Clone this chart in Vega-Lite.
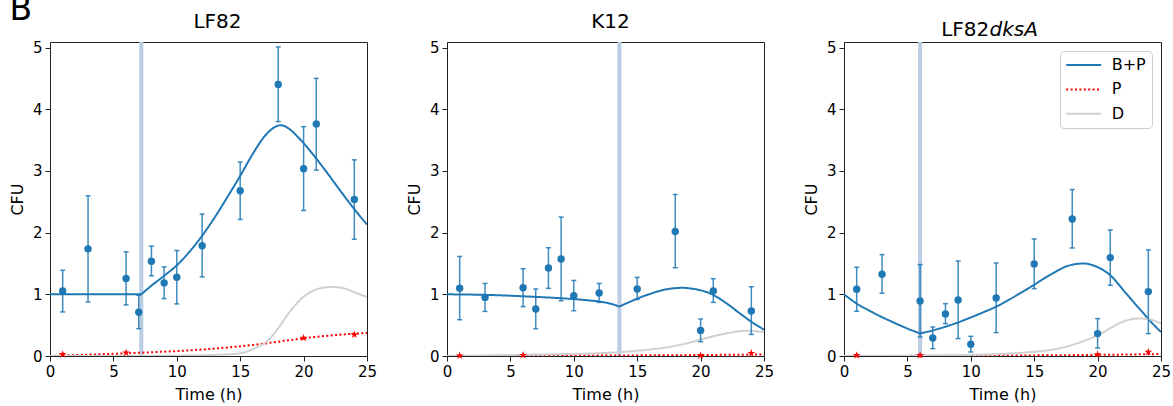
{
  "$schema": "https://vega.github.io/schema/vega-lite/v6.json",
  "padding": {"left": 9, "top": -6, "right": 0, "bottom": 0},
  "title": {"text": "B", "anchor": "start", "frame": "bounds", "fontSize": 33, "offset": -15.7, "font": "DejaVu Sans", "fontWeight": "normal", "color": "black"},
  "spacing": 28,
  "resolve": {"scale": {"color": "independent", "strokeDash": "independent"}},
  "datasets": {
    "r1": [{"t": 7.2}],
    "r2": [{"t": 13.6}],
    "r3": [{"t": 6.0}],
    "c1": [
      {"t": 0, "v": 1.0, "s": "B+P", "g": "a"}, {"t": 7.2, "v": 1.0, "s": "B+P", "g": "a"},
      {"t": 7.2, "v": 1.0, "s": "B+P", "g": "b"}, {"t": 8, "v": 1.14, "s": "B+P", "g": "b"}, {"t": 9, "v": 1.3, "s": "B+P", "g": "b"}, {"t": 10, "v": 1.47, "s": "B+P", "g": "b"}, {"t": 11, "v": 1.69, "s": "B+P", "g": "b"}, {"t": 12, "v": 1.95, "s": "B+P", "g": "b"}, {"t": 13, "v": 2.25, "s": "B+P", "g": "b"}, {"t": 14, "v": 2.58, "s": "B+P", "g": "b"}, {"t": 15, "v": 2.92, "s": "B+P", "g": "b"}, {"t": 16, "v": 3.28, "s": "B+P", "g": "b"}, {"t": 17, "v": 3.58, "s": "B+P", "g": "b"}, {"t": 17.5, "v": 3.68, "s": "B+P", "g": "b"}, {"t": 18.2, "v": 3.74, "s": "B+P", "g": "b"}, {"t": 19, "v": 3.66, "s": "B+P", "g": "b"}, {"t": 19.5, "v": 3.56, "s": "B+P", "g": "b"}, {"t": 20, "v": 3.45, "s": "B+P", "g": "b"}, {"t": 21, "v": 3.2, "s": "B+P", "g": "b"}, {"t": 22, "v": 2.93, "s": "B+P", "g": "b"}, {"t": 23, "v": 2.65, "s": "B+P", "g": "b"}, {"t": 24, "v": 2.38, "s": "B+P", "g": "b"}, {"t": 25, "v": 2.13, "s": "B+P", "g": "b"},
      {"t": 0, "v": 0.0, "s": "P", "g": "a"}, {"t": 2, "v": 0.015, "s": "P", "g": "a"}, {"t": 4, "v": 0.029, "s": "P", "g": "a"}, {"t": 6, "v": 0.044, "s": "P", "g": "a"}, {"t": 8, "v": 0.061, "s": "P", "g": "a"}, {"t": 10, "v": 0.08, "s": "P", "g": "a"}, {"t": 12, "v": 0.105, "s": "P", "g": "a"}, {"t": 14, "v": 0.138, "s": "P", "g": "a"}, {"t": 16, "v": 0.18, "s": "P", "g": "a"}, {"t": 18, "v": 0.232, "s": "P", "g": "a"}, {"t": 20, "v": 0.287, "s": "P", "g": "a"}, {"t": 22, "v": 0.33, "s": "P", "g": "a"}, {"t": 24, "v": 0.362, "s": "P", "g": "a"}, {"t": 25, "v": 0.373, "s": "P", "g": "a"},
      {"t": 0, "v": 0.0, "s": "D", "g": "a"}, {"t": 5, "v": 0.0, "s": "D", "g": "a"}, {"t": 8, "v": 0.002, "s": "D", "g": "a"}, {"t": 10, "v": 0.005, "s": "D", "g": "a"}, {"t": 12, "v": 0.012, "s": "D", "g": "a"}, {"t": 13, "v": 0.018, "s": "D", "g": "a"}, {"t": 14, "v": 0.027, "s": "D", "g": "a"}, {"t": 15, "v": 0.045, "s": "D", "g": "a"}, {"t": 15.5, "v": 0.07, "s": "D", "g": "a"}, {"t": 16, "v": 0.11, "s": "D", "g": "a"}, {"t": 16.5, "v": 0.16, "s": "D", "g": "a"}, {"t": 17, "v": 0.22, "s": "D", "g": "a"}, {"t": 17.5, "v": 0.32, "s": "D", "g": "a"}, {"t": 18, "v": 0.45, "s": "D", "g": "a"}, {"t": 18.5, "v": 0.6, "s": "D", "g": "a"}, {"t": 19, "v": 0.74, "s": "D", "g": "a"}, {"t": 19.5, "v": 0.86, "s": "D", "g": "a"}, {"t": 20, "v": 0.96, "s": "D", "g": "a"}, {"t": 20.5, "v": 1.03, "s": "D", "g": "a"}, {"t": 21, "v": 1.08, "s": "D", "g": "a"}, {"t": 21.5, "v": 1.105, "s": "D", "g": "a"}, {"t": 22.2, "v": 1.12, "s": "D", "g": "a"}, {"t": 23, "v": 1.105, "s": "D", "g": "a"}, {"t": 23.5, "v": 1.075, "s": "D", "g": "a"}, {"t": 24, "v": 1.035, "s": "D", "g": "a"}, {"t": 24.5, "v": 0.995, "s": "D", "g": "a"}, {"t": 25, "v": 0.957, "s": "D", "g": "a"}
    ],
    "c2": [
      {"t": 0, "v": 1.0, "s": "B+P", "g": "a"}, {"t": 2, "v": 0.995, "s": "B+P", "g": "a"}, {"t": 4, "v": 0.985, "s": "B+P", "g": "a"}, {"t": 6, "v": 0.968, "s": "B+P", "g": "a"}, {"t": 8, "v": 0.948, "s": "B+P", "g": "a"}, {"t": 10, "v": 0.923, "s": "B+P", "g": "a"}, {"t": 11, "v": 0.905, "s": "B+P", "g": "a"}, {"t": 12, "v": 0.884, "s": "B+P", "g": "a"}, {"t": 12.5, "v": 0.866, "s": "B+P", "g": "a"}, {"t": 13, "v": 0.842, "s": "B+P", "g": "a"}, {"t": 13.6, "v": 0.8, "s": "B+P", "g": "a"},
      {"t": 13.6, "v": 0.8, "s": "B+P", "g": "b"}, {"t": 14, "v": 0.84, "s": "B+P", "g": "b"}, {"t": 14.5, "v": 0.885, "s": "B+P", "g": "b"}, {"t": 15, "v": 0.93, "s": "B+P", "g": "b"}, {"t": 15.5, "v": 0.97, "s": "B+P", "g": "b"}, {"t": 16, "v": 1.005, "s": "B+P", "g": "b"}, {"t": 16.5, "v": 1.04, "s": "B+P", "g": "b"}, {"t": 17, "v": 1.068, "s": "B+P", "g": "b"}, {"t": 17.5, "v": 1.088, "s": "B+P", "g": "b"}, {"t": 18, "v": 1.1, "s": "B+P", "g": "b"}, {"t": 18.6, "v": 1.105, "s": "B+P", "g": "b"}, {"t": 19.2, "v": 1.095, "s": "B+P", "g": "b"}, {"t": 20, "v": 1.065, "s": "B+P", "g": "b"}, {"t": 20.5, "v": 1.035, "s": "B+P", "g": "b"}, {"t": 21, "v": 0.99, "s": "B+P", "g": "b"}, {"t": 21.5, "v": 0.93, "s": "B+P", "g": "b"}, {"t": 22, "v": 0.86, "s": "B+P", "g": "b"}, {"t": 22.5, "v": 0.785, "s": "B+P", "g": "b"}, {"t": 23, "v": 0.705, "s": "B+P", "g": "b"}, {"t": 23.5, "v": 0.63, "s": "B+P", "g": "b"}, {"t": 24, "v": 0.555, "s": "B+P", "g": "b"}, {"t": 24.5, "v": 0.49, "s": "B+P", "g": "b"}, {"t": 25, "v": 0.426, "s": "B+P", "g": "b"},
      {"t": 0, "v": 0.0, "s": "P", "g": "a"}, {"t": 5, "v": 0.003, "s": "P", "g": "a"}, {"t": 10, "v": 0.006, "s": "P", "g": "a"}, {"t": 15, "v": 0.01, "s": "P", "g": "a"}, {"t": 20, "v": 0.016, "s": "P", "g": "a"}, {"t": 25, "v": 0.025, "s": "P", "g": "a"},
      {"t": 0, "v": 0.0, "s": "D", "g": "a"}, {"t": 2, "v": 0.005, "s": "D", "g": "a"}, {"t": 4, "v": 0.012, "s": "D", "g": "a"}, {"t": 6, "v": 0.02, "s": "D", "g": "a"}, {"t": 8, "v": 0.027, "s": "D", "g": "a"}, {"t": 10, "v": 0.034, "s": "D", "g": "a"}, {"t": 12, "v": 0.045, "s": "D", "g": "a"}, {"t": 13, "v": 0.055, "s": "D", "g": "a"}, {"t": 14, "v": 0.068, "s": "D", "g": "a"}, {"t": 15, "v": 0.085, "s": "D", "g": "a"}, {"t": 16, "v": 0.105, "s": "D", "g": "a"}, {"t": 17, "v": 0.13, "s": "D", "g": "a"}, {"t": 18, "v": 0.165, "s": "D", "g": "a"}, {"t": 19, "v": 0.21, "s": "D", "g": "a"}, {"t": 20, "v": 0.265, "s": "D", "g": "a"}, {"t": 21, "v": 0.32, "s": "D", "g": "a"}, {"t": 22, "v": 0.365, "s": "D", "g": "a"}, {"t": 22.5, "v": 0.385, "s": "D", "g": "a"}, {"t": 23, "v": 0.4, "s": "D", "g": "a"}, {"t": 23.7, "v": 0.409, "s": "D", "g": "a"}, {"t": 24.3, "v": 0.403, "s": "D", "g": "a"}, {"t": 25, "v": 0.385, "s": "D", "g": "a"}
    ],
    "c3": [
      {"t": 0, "v": 1.0, "s": "B+P", "g": "a"}, {"t": 1, "v": 0.85, "s": "B+P", "g": "a"}, {"t": 2, "v": 0.735, "s": "B+P", "g": "a"}, {"t": 3, "v": 0.63, "s": "B+P", "g": "a"}, {"t": 4, "v": 0.535, "s": "B+P", "g": "a"}, {"t": 5, "v": 0.445, "s": "B+P", "g": "a"}, {"t": 6, "v": 0.365, "s": "B+P", "g": "a"},
      {"t": 6, "v": 0.365, "s": "B+P", "g": "b"}, {"t": 7, "v": 0.415, "s": "B+P", "g": "b"}, {"t": 8, "v": 0.475, "s": "B+P", "g": "b"}, {"t": 9, "v": 0.545, "s": "B+P", "g": "b"}, {"t": 10, "v": 0.625, "s": "B+P", "g": "b"}, {"t": 11, "v": 0.71, "s": "B+P", "g": "b"}, {"t": 12, "v": 0.8, "s": "B+P", "g": "b"}, {"t": 13, "v": 0.91, "s": "B+P", "g": "b"}, {"t": 14, "v": 1.03, "s": "B+P", "g": "b"}, {"t": 15, "v": 1.155, "s": "B+P", "g": "b"}, {"t": 16, "v": 1.285, "s": "B+P", "g": "b"}, {"t": 17, "v": 1.4, "s": "B+P", "g": "b"}, {"t": 17.5, "v": 1.45, "s": "B+P", "g": "b"}, {"t": 18, "v": 1.48, "s": "B+P", "g": "b"}, {"t": 18.9, "v": 1.5, "s": "B+P", "g": "b"}, {"t": 19.5, "v": 1.48, "s": "B+P", "g": "b"}, {"t": 20, "v": 1.44, "s": "B+P", "g": "b"}, {"t": 20.5, "v": 1.385, "s": "B+P", "g": "b"}, {"t": 21, "v": 1.31, "s": "B+P", "g": "b"}, {"t": 21.5, "v": 1.2, "s": "B+P", "g": "b"}, {"t": 22, "v": 1.075, "s": "B+P", "g": "b"}, {"t": 22.5, "v": 0.955, "s": "B+P", "g": "b"}, {"t": 23, "v": 0.835, "s": "B+P", "g": "b"}, {"t": 23.5, "v": 0.72, "s": "B+P", "g": "b"}, {"t": 24, "v": 0.6, "s": "B+P", "g": "b"}, {"t": 24.5, "v": 0.49, "s": "B+P", "g": "b"}, {"t": 25, "v": 0.39, "s": "B+P", "g": "b"},
      {"t": 0, "v": 0.0, "s": "P", "g": "a"}, {"t": 5, "v": 0.002, "s": "P", "g": "a"}, {"t": 10, "v": 0.005, "s": "P", "g": "a"}, {"t": 15, "v": 0.01, "s": "P", "g": "a"}, {"t": 20, "v": 0.018, "s": "P", "g": "a"}, {"t": 25, "v": 0.032, "s": "P", "g": "a"},
      {"t": 0, "v": 0.0, "s": "D", "g": "a"}, {"t": 4, "v": 0.003, "s": "D", "g": "a"}, {"t": 8, "v": 0.01, "s": "D", "g": "a"}, {"t": 10, "v": 0.018, "s": "D", "g": "a"}, {"t": 12, "v": 0.03, "s": "D", "g": "a"}, {"t": 13, "v": 0.04, "s": "D", "g": "a"}, {"t": 14, "v": 0.052, "s": "D", "g": "a"}, {"t": 15, "v": 0.068, "s": "D", "g": "a"}, {"t": 16, "v": 0.09, "s": "D", "g": "a"}, {"t": 17, "v": 0.125, "s": "D", "g": "a"}, {"t": 18, "v": 0.18, "s": "D", "g": "a"}, {"t": 19, "v": 0.25, "s": "D", "g": "a"}, {"t": 20, "v": 0.335, "s": "D", "g": "a"}, {"t": 21, "v": 0.45, "s": "D", "g": "a"}, {"t": 21.5, "v": 0.51, "s": "D", "g": "a"}, {"t": 22, "v": 0.555, "s": "D", "g": "a"}, {"t": 22.5, "v": 0.588, "s": "D", "g": "a"}, {"t": 23.3, "v": 0.607, "s": "D", "g": "a"}, {"t": 24, "v": 0.598, "s": "D", "g": "a"}, {"t": 24.5, "v": 0.57, "s": "D", "g": "a"}, {"t": 25, "v": 0.527, "s": "D", "g": "a"}
    ],
    "p1": [
      {"t": 1, "v": 1.055, "lo": 0.714, "hi": 1.39}, {"t": 3, "v": 1.737, "lo": 0.877, "hi": 2.597}, {"t": 6, "v": 1.255, "lo": 0.828, "hi": 1.688}, {"t": 7, "v": 0.708, "lo": 0.443, "hi": 0.984}, {"t": 8, "v": 1.536, "lo": 1.3, "hi": 1.78}, {"t": 9, "v": 1.185, "lo": 0.93, "hi": 1.445}, {"t": 10, "v": 1.276, "lo": 0.844, "hi": 1.71}, {"t": 12, "v": 1.786, "lo": 1.282, "hi": 2.3}, {"t": 15, "v": 2.679, "lo": 2.213, "hi": 3.143}, {"t": 18, "v": 4.4, "lo": 3.8, "hi": 5.01}, {"t": 20, "v": 3.036, "lo": 2.359, "hi": 3.718}, {"t": 21, "v": 3.76, "lo": 3.013, "hi": 4.5}, {"t": 24, "v": 2.537, "lo": 1.893, "hi": 3.18}
    ],
    "p2": [
      {"t": 1, "v": 1.1, "lo": 0.588, "hi": 1.614}, {"t": 3, "v": 0.95, "lo": 0.723, "hi": 1.176}, {"t": 6, "v": 1.107, "lo": 0.8, "hi": 1.415}, {"t": 7, "v": 0.762, "lo": 0.443, "hi": 1.086}, {"t": 8, "v": 1.426, "lo": 1.096, "hi": 1.755}, {"t": 9, "v": 1.572, "lo": 0.896, "hi": 2.252}, {"t": 10, "v": 0.977, "lo": 0.734, "hi": 1.225}, {"t": 12, "v": 1.021, "lo": 0.869, "hi": 1.176}, {"t": 15, "v": 1.086, "lo": 0.917, "hi": 1.274}, {"t": 18, "v": 2.019, "lo": 1.431, "hi": 2.618}, {"t": 20, "v": 0.415, "lo": 0.232, "hi": 0.6}, {"t": 21, "v": 1.053, "lo": 0.869, "hi": 1.253}, {"t": 24, "v": 0.729, "lo": 0.35, "hi": 1.123}
    ],
    "p3": [
      {"t": 1, "v": 1.081, "lo": 0.725, "hi": 1.438}, {"t": 3, "v": 1.325, "lo": 1.017, "hi": 1.644}, {"t": 6, "v": 0.892, "lo": 0.308, "hi": 1.482}, {"t": 7, "v": 0.292, "lo": 0.119, "hi": 0.47}, {"t": 8, "v": 0.681, "lo": 0.525, "hi": 0.849}, {"t": 9, "v": 0.908, "lo": 0.282, "hi": 1.54}, {"t": 10, "v": 0.19, "lo": 0.065, "hi": 0.319}, {"t": 12, "v": 0.94, "lo": 0.379, "hi": 1.508}, {"t": 15, "v": 1.492, "lo": 1.092, "hi": 1.897}, {"t": 18, "v": 2.221, "lo": 1.751, "hi": 2.698}, {"t": 20, "v": 0.363, "lo": 0.13, "hi": 0.606}, {"t": 21, "v": 1.595, "lo": 1.146, "hi": 2.043}, {"t": 24, "v": 1.044, "lo": 0.363, "hi": 1.719}
    ],
    "s1": [{"t": 1, "v": 0.026}, {"t": 6, "v": 0.054}, {"t": 20, "v": 0.292}, {"t": 24, "v": 0.346}],
    "s2": [{"t": 1, "v": 0.005}, {"t": 6, "v": 0.012}, {"t": 20, "v": 0.008}, {"t": 24, "v": 0.045}],
    "s3": [{"t": 1, "v": 0.01}, {"t": 6, "v": 0.01}, {"t": 20, "v": 0.025}, {"t": 24, "v": 0.065}]
  },
  "hconcat": [
    {
      "width": 317, "height": 314,
      "title": {"text": "LF82", "dx": 9, "offset": 8},
      "layer": [
        {"data": {"name": "r1"}, "mark": {"type": "rule", "color": "#b9cde5", "strokeWidth": 4}, "encoding": {"x": {"field": "t", "type": "quantitative", "title": "Time (h)", "scale": {"domain": [0, 25], "nice": false}, "axis": {"values": [0, 5, 10, 15, 20, 25]}}}},
        {"data": {"name": "c1"}, "mark": {"type": "line", "strokeWidth": 2, "interpolate": "monotone", "clip": true},
          "encoding": {
            "x": {"field": "t", "type": "quantitative", "title": "Time (h)"},
            "y": {"field": "v", "type": "quantitative", "title": "CFU", "scale": {"domain": [0, 5.09], "nice": false}, "axis": {"values": [0, 1, 2, 3, 4, 5], "format": "d"}},
            "color": {"field": "s", "type": "nominal", "title": null, "scale": {"domain": ["B+P", "P", "D"], "range": ["#1f77b4", "#ff0000", "#d0d0d0"]}, "legend": null},
            "strokeDash": {"field": "s", "type": "nominal", "title": null, "scale": {"domain": ["B+P", "P", "D"], "range": [[1, 0], [2, 2.4], [1, 0]]}, "legend": null},
            "detail": {"field": "g"}
          }},
        {"data": {"name": "p1"}, "mark": {"type": "errorbar", "color": "#1f77b4", "opacity": 0.85, "thickness": 1.5, "ticks": {"size": 5, "thickness": 1.5, "color": "#1f77b4"}},
          "encoding": {"x": {"field": "t", "type": "quantitative", "title": "Time (h)"}, "y": {"field": "lo", "type": "quantitative", "title": "CFU"}, "y2": {"field": "hi"}}},
        {"data": {"name": "p1"}, "mark": {"type": "point", "filled": true, "size": 55, "color": "#1f77b4", "opacity": 1},
          "encoding": {"x": {"field": "t", "type": "quantitative", "title": "Time (h)"}, "y": {"field": "v", "type": "quantitative", "title": "CFU"}}},
        {"data": {"name": "s1"}, "mark": {"type": "point", "filled": true, "size": 70, "color": "#ff0000", "opacity": 1, "shape": "M0,-1L0.2245,-0.309L0.951,-0.309L0.363,0.118L0.588,0.809L0,0.382L-0.588,0.809L-0.363,0.118L-0.951,-0.309L-0.2245,-0.309Z"},
          "encoding": {"x": {"field": "t", "type": "quantitative", "title": "Time (h)"}, "y": {"field": "v", "type": "quantitative", "title": "CFU"}}}
      ]
    },
    {
      "width": 317, "height": 314,
      "title": {"text": "K12", "dx": 5, "offset": 8},
      "layer": [
        {"data": {"name": "r2"}, "mark": {"type": "rule", "color": "#b9cde5", "strokeWidth": 4}, "encoding": {"x": {"field": "t", "type": "quantitative", "title": "Time (h)", "scale": {"domain": [0, 25], "nice": false}, "axis": {"values": [0, 5, 10, 15, 20, 25]}}}},
        {"data": {"name": "c2"}, "mark": {"type": "line", "strokeWidth": 2, "interpolate": "monotone", "clip": true},
          "encoding": {
            "x": {"field": "t", "type": "quantitative", "title": "Time (h)"},
            "y": {"field": "v", "type": "quantitative", "title": "CFU", "scale": {"domain": [0, 5.09], "nice": false}, "axis": {"values": [0, 1, 2, 3, 4, 5], "format": "d"}},
            "color": {"field": "s", "type": "nominal", "title": null, "scale": {"domain": ["B+P", "P", "D"], "range": ["#1f77b4", "#ff0000", "#d0d0d0"]}, "legend": null},
            "strokeDash": {"field": "s", "type": "nominal", "title": null, "scale": {"domain": ["B+P", "P", "D"], "range": [[1, 0], [2, 2.4], [1, 0]]}, "legend": null},
            "detail": {"field": "g"}
          }},
        {"data": {"name": "p2"}, "mark": {"type": "errorbar", "color": "#1f77b4", "opacity": 0.85, "thickness": 1.5, "ticks": {"size": 5, "thickness": 1.5, "color": "#1f77b4"}},
          "encoding": {"x": {"field": "t", "type": "quantitative", "title": "Time (h)"}, "y": {"field": "lo", "type": "quantitative", "title": "CFU"}, "y2": {"field": "hi"}}},
        {"data": {"name": "p2"}, "mark": {"type": "point", "filled": true, "size": 55, "color": "#1f77b4", "opacity": 1},
          "encoding": {"x": {"field": "t", "type": "quantitative", "title": "Time (h)"}, "y": {"field": "v", "type": "quantitative", "title": "CFU"}}},
        {"data": {"name": "s2"}, "mark": {"type": "point", "filled": true, "size": 70, "color": "#ff0000", "opacity": 1, "shape": "M0,-1L0.2245,-0.309L0.951,-0.309L0.363,0.118L0.588,0.809L0,0.382L-0.588,0.809L-0.363,0.118L-0.951,-0.309L-0.2245,-0.309Z"},
          "encoding": {"x": {"field": "t", "type": "quantitative", "title": "Time (h)"}, "y": {"field": "v", "type": "quantitative", "title": "CFU"}}}
      ]
    },
    {
      "width": 317, "height": 314,
      "title": {"text": "LF82\u00a0\u00a0\u00a0\u00a0\u00a0\u00a0\u00a0\u2009\u200b", "subtitle": "\u200b\u00a0\u00a0\u00a0\u00a0\u00a0\u00a0\u00a0\u2009dksA", "subtitleFontStyle": "italic", "subtitleFontSize": 20, "subtitleFont": "DejaVu Sans", "subtitleColor": "black", "subtitlePadding": -20, "dx": -13, "offset": 0},
      "layer": [
        {"data": {"name": "r3"}, "mark": {"type": "rule", "color": "#b9cde5", "strokeWidth": 4}, "encoding": {"x": {"field": "t", "type": "quantitative", "title": "Time (h)", "scale": {"domain": [0, 25], "nice": false}, "axis": {"values": [0, 5, 10, 15, 20, 25]}}}},
        {"data": {"name": "c3"}, "mark": {"type": "line", "strokeWidth": 2, "interpolate": "monotone", "clip": true},
          "encoding": {
            "x": {"field": "t", "type": "quantitative", "title": "Time (h)"},
            "y": {"field": "v", "type": "quantitative", "title": "CFU", "scale": {"domain": [0, 5.09], "nice": false}, "axis": {"values": [0, 1, 2, 3, 4, 5], "format": "d"}},
            "color": {"field": "s", "type": "nominal", "title": null, "scale": {"domain": ["B+P", "P", "D"], "range": ["#1f77b4", "#ff0000", "#d0d0d0"]}},
            "strokeDash": {"field": "s", "type": "nominal", "title": null, "scale": {"domain": ["B+P", "P", "D"], "range": [[1, 0], [2, 2.4], [1, 0]]}},
            "detail": {"field": "g"}
          }},
        {"data": {"name": "p3"}, "mark": {"type": "errorbar", "color": "#1f77b4", "opacity": 0.85, "thickness": 1.5, "ticks": {"size": 5, "thickness": 1.5, "color": "#1f77b4"}},
          "encoding": {"x": {"field": "t", "type": "quantitative", "title": "Time (h)"}, "y": {"field": "lo", "type": "quantitative", "title": "CFU"}, "y2": {"field": "hi"}}},
        {"data": {"name": "p3"}, "mark": {"type": "point", "filled": true, "size": 55, "color": "#1f77b4", "opacity": 1},
          "encoding": {"x": {"field": "t", "type": "quantitative", "title": "Time (h)"}, "y": {"field": "v", "type": "quantitative", "title": "CFU"}}},
        {"data": {"name": "s3"}, "mark": {"type": "point", "filled": true, "size": 70, "color": "#ff0000", "opacity": 1, "shape": "M0,-1L0.2245,-0.309L0.951,-0.309L0.363,0.118L0.588,0.809L0,0.382L-0.588,0.809L-0.363,0.118L-0.951,-0.309L-0.2245,-0.309Z"},
          "encoding": {"x": {"field": "t", "type": "quantitative", "title": "Time (h)"}, "y": {"field": "v", "type": "quantitative", "title": "CFU"}}}
      ]
    }
  ],
  "config": {
    "font": "DejaVu Sans",
    "view": {"stroke": "#222222", "strokeWidth": 1},
    "axis": {"grid": false, "domainColor": "#222222", "tickColor": "#222222", "labelColor": "black", "titleColor": "black", "labelFontSize": 15, "titleFontSize": 16, "titleFontWeight": "normal", "tickSize": 5, "labelPadding": 3, "labelFlush": false, "labelOverlap": false, "labelFont": "DejaVu Sans", "titleFont": "DejaVu Sans"},
    "axisY": {"titlePadding": 6.5},
    "axisX": {"titlePadding": 7},
    "title": {"font": "DejaVu Sans", "fontSize": 20, "fontWeight": "normal", "color": "black", "frame": "group", "anchor": "middle"},
    "legend": {"orient": "top-right", "offset": 9, "labelFontSize": 16, "labelFont": "DejaVu Sans", "labelColor": "black", "symbolType": "M-3,0H3", "symbolSize": 136, "symbolStrokeWidth": 2, "symbolOffset": 9.7, "labelOffset": 20, "rowPadding": 8.4, "padding": 6, "strokeColor": "#cccccc", "fillColor": "white", "cornerRadius": 4}
  }
}
